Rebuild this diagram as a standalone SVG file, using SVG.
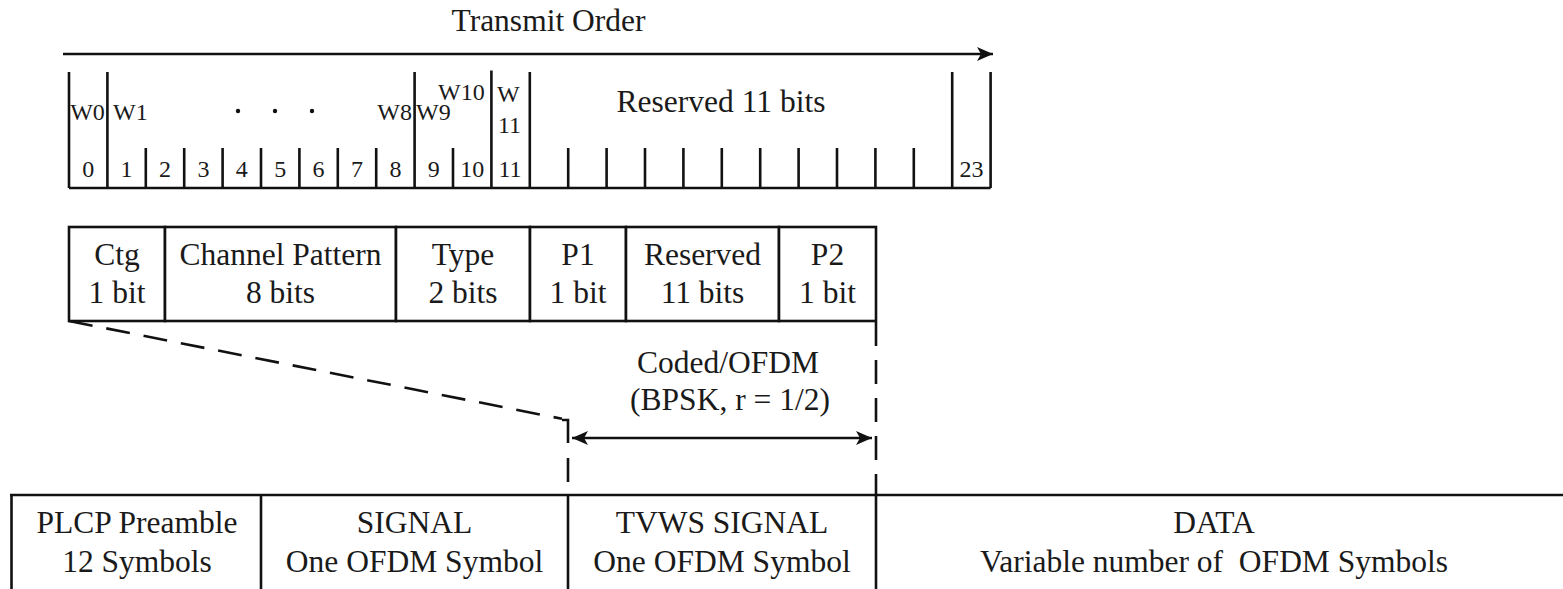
<svg xmlns="http://www.w3.org/2000/svg" width="1563" height="589" viewBox="0 0 1563 589">
<style>
.t{font-family:"Liberation Serif","Times New Roman",serif;font-size:31.5px;fill:#1a1a1a;text-anchor:middle;white-space:pre}
.s{font-family:"Liberation Serif","Times New Roman",serif;font-size:24px;fill:#1a1a1a;white-space:pre}
.c{text-anchor:middle}
.e{text-anchor:end}
.ln{stroke:#111;stroke-width:2.6;fill:none}
.box{stroke:#111;stroke-width:2.6;fill:#fff}
.dash{stroke:#111;stroke-width:2.6;fill:none;stroke-dasharray:24 14}
</style>
<defs>
<marker id="ah" markerUnits="userSpaceOnUse" markerWidth="18" markerHeight="16" refX="16" refY="7" orient="auto-start-reverse">
<path d="M0,0 L16,7 L0,14 L4,7 Z" fill="#111"/>
</marker>
</defs>
<rect width="1563" height="589" fill="#fff"/>

<g id="transmit-order">
<text class="t" x="548.5" y="31">Transmit Order</text>
</g>

<g id="bit-table">
<line class="ln" x1="69" y1="188" x2="990.6" y2="188"/>
<!-- tall lines -->
<line class="ln" x1="69" y1="72" x2="69" y2="188"/>
<line class="ln" x1="107.4" y1="72" x2="107.4" y2="188"/>
<line class="ln" x1="414.6" y1="72" x2="414.6" y2="188"/>
<line class="ln" x1="491.4" y1="70.5" x2="491.4" y2="188"/>
<line class="ln" x1="529.8" y1="72" x2="529.8" y2="188"/>
<line class="ln" x1="952.2" y1="72" x2="952.2" y2="188"/>
<line class="ln" x1="990.6" y1="72" x2="990.6" y2="188"/>
<!-- short ticks -->
<line class="ln" x1="145.8" y1="148" x2="145.8" y2="188"/>
<line class="ln" x1="184.2" y1="148" x2="184.2" y2="188"/>
<line class="ln" x1="222.6" y1="148" x2="222.6" y2="188"/>
<line class="ln" x1="261" y1="148" x2="261" y2="188"/>
<line class="ln" x1="299.4" y1="148" x2="299.4" y2="188"/>
<line class="ln" x1="337.8" y1="148" x2="337.8" y2="188"/>
<line class="ln" x1="376.2" y1="148" x2="376.2" y2="188"/>
<line class="ln" x1="453" y1="148" x2="453" y2="188"/>
<line class="ln" x1="568.2" y1="148" x2="568.2" y2="188"/>
<line class="ln" x1="606.6" y1="148" x2="606.6" y2="188"/>
<line class="ln" x1="645" y1="148" x2="645" y2="188"/>
<line class="ln" x1="683.4" y1="148" x2="683.4" y2="188"/>
<line class="ln" x1="721.8" y1="148" x2="721.8" y2="188"/>
<line class="ln" x1="760.2" y1="148" x2="760.2" y2="188"/>
<line class="ln" x1="798.6" y1="148" x2="798.6" y2="188"/>
<line class="ln" x1="837" y1="148" x2="837" y2="188"/>
<line class="ln" x1="875.4" y1="148" x2="875.4" y2="188"/>
<line class="ln" x1="913.8" y1="148" x2="913.8" y2="188"/>
<!-- word labels -->
<text class="s c" x="87.5" y="120">W0</text>
<text class="s" x="113" y="120">W1</text>
<circle cx="238" cy="111" r="2.2" fill="#111"/>
<circle cx="275" cy="111" r="2.2" fill="#111"/>
<circle cx="312" cy="111" r="2.2" fill="#111"/>
<text class="s e" x="412" y="120">W8</text>
<text class="s" x="416" y="120">W9</text>
<text class="s" x="438" y="100">W10</text>
<text class="s" x="497" y="101.5">W</text>
<text class="s" x="498" y="133">11</text>
<text class="t" x="721" y="112">Reserved 11 bits</text>
<!-- bit numbers -->
<text class="s c" x="88.2" y="177">0</text>
<text class="s c" x="126.6" y="177">1</text>
<text class="s c" x="165" y="177">2</text>
<text class="s c" x="203.4" y="177">3</text>
<text class="s c" x="241.8" y="177">4</text>
<text class="s c" x="280.2" y="177">5</text>
<text class="s c" x="318.6" y="177">6</text>
<text class="s c" x="357" y="177">7</text>
<text class="s c" x="395.4" y="177">8</text>
<text class="s c" x="433.8" y="177">9</text>
<text class="s c" x="472.2" y="177">10</text>
<text class="s c" x="510" y="177">11</text>
<text class="s c" x="971.4" y="177">23</text>
</g>

<g id="field-ctg">
<rect class="box" x="69" y="227" width="96" height="94"/>
<text class="t" x="117" y="265">Ctg</text>
<text class="t" x="117" y="303">1 bit</text>
</g>
<g id="field-channel-pattern">
<rect class="box" x="165" y="227" width="231" height="94"/>
<text class="t" x="280.5" y="265">Channel Pattern</text>
<text class="t" x="280.5" y="303">8 bits</text>
</g>
<g id="field-type">
<rect class="box" x="396" y="227" width="134" height="94"/>
<text class="t" x="463" y="265">Type</text>
<text class="t" x="463" y="303">2 bits</text>
</g>
<g id="field-p1">
<rect class="box" x="530" y="227" width="96" height="94"/>
<text class="t" x="578" y="265">P1</text>
<text class="t" x="578" y="303">1 bit</text>
</g>
<g id="field-reserved">
<rect class="box" x="626" y="227" width="153" height="94"/>
<text class="t" x="702.5" y="265">Reserved</text>
<text class="t" x="702.5" y="303">11 bits</text>
</g>
<g id="field-p2">
<rect class="box" x="779" y="227" width="97" height="94"/>
<text class="t" x="827.5" y="265">P2</text>
<text class="t" x="827.5" y="303">1 bit</text>
</g>

<g id="coded-label">
<text class="t" x="728" y="373">Coded/OFDM</text>
<text class="t" x="730" y="410">(BPSK, r = 1/2)</text>
</g>

<g id="ppdu-plcp">
<line class="ln" x1="10" y1="495" x2="261" y2="495"/>
<line class="ln" x1="11.5" y1="495" x2="11.5" y2="590"/>
<text class="t" x="137" y="533">PLCP Preamble</text>
<text class="t" x="137" y="572">12 Symbols</text>
</g>
<g id="ppdu-signal">
<line class="ln" x1="261" y1="495" x2="568" y2="495"/>
<line class="ln" x1="261" y1="495" x2="261" y2="590"/>
<text class="t" x="414.5" y="533">SIGNAL</text>
<text class="t" x="414.5" y="572">One OFDM Symbol</text>
</g>
<g id="ppdu-tvws-signal">
<line class="ln" x1="568" y1="495" x2="876" y2="495"/>
<line class="ln" x1="568" y1="495" x2="568" y2="590"/>
<text class="t" x="722" y="533">TVWS SIGNAL</text>
<text class="t" x="722" y="572">One OFDM Symbol</text>
</g>
<g id="ppdu-data">
<line class="ln" x1="876" y1="495" x2="1563" y2="495"/>
<line class="ln" x1="876" y1="495" x2="876" y2="590"/>
<text class="t" x="1214" y="533">DATA</text>
<text class="t" x="1214" y="572">Variable number of  OFDM Symbols</text>
</g>

<g id="connectors">
<line class="ln" x1="63" y1="54" x2="993" y2="54" marker-end="url(#ah)"/>
<line class="dash" x1="69" y1="321" x2="562" y2="418.8"/>
<path class="ln" d="M562,420 L568,420 L568,443"/>
<line class="dash" x1="568" y1="458" x2="568" y2="495"/>
<line class="dash" x1="876" y1="322" x2="876" y2="495"/>
<line class="ln" x1="572" y1="438" x2="872" y2="438" marker-start="url(#ah)" marker-end="url(#ah)"/>
</g>
</svg>
